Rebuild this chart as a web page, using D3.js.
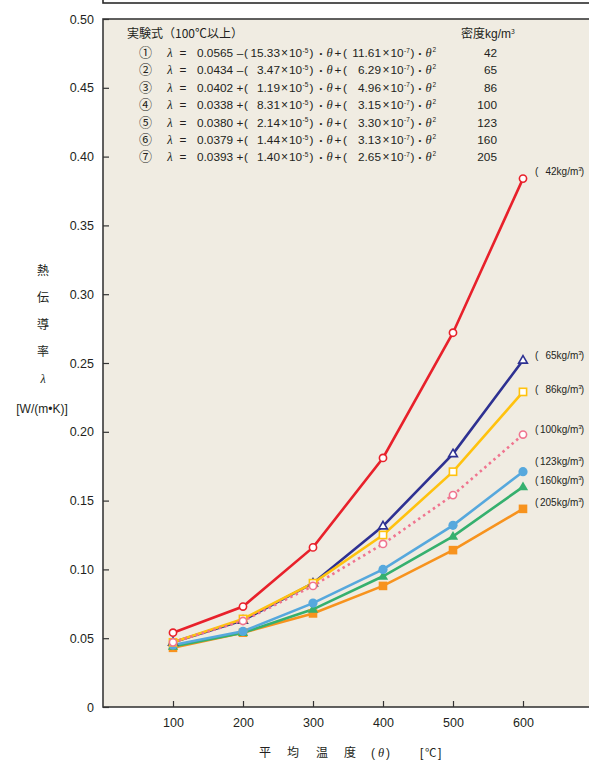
<!DOCTYPE html>
<html><head><meta charset="utf-8">
<script src="https://cdn.jsdelivr.net/npm/d3@7"></script>
<style>
html,body{margin:0;padding:0;background:#fff;}
svg{display:block;}
text{font-family:"Liberation Sans","Noto Sans CJK JP",sans-serif;fill:#231f20;}
.jp{font-family:"Noto Sans CJK JP",sans-serif;}
.it{font-family:"Liberation Serif",serif;font-style:italic;}
</style></head>
<body><svg id="c" width="589" height="764"></svg>
<script>
// ---- data ----
const temps = [100, 200, 300, 400, 500, 600];
const densities = [42, 65, 86, 100, 123, 160, 205];
const s42  = [0.054, 0.073, 0.116, 0.181, 0.272, 0.384];
const s65  = [0.047, 0.063, 0.090, 0.1315, 0.184, 0.252];
const s86  = [0.047, 0.064, 0.090, 0.125, 0.171, 0.229];
const s100 = [0.047, 0.0625, 0.088, 0.1185, 0.154, 0.198];
const s123 = [0.045, 0.055, 0.0755, 0.100, 0.132, 0.171];
const s160 = [0.044, 0.054, 0.071, 0.095, 0.124, 0.160];
const s205 = [0.043, 0.054, 0.068, 0.088, 0.114, 0.144];
const yTicks = [0, 0.05, 0.10, 0.15, 0.20, 0.25, 0.30, 0.35, 0.40, 0.45, 0.50];
const xTicks = [100, 200, 300, 400, 500, 600];
const formulaNo = ["①","②","③","④","⑤","⑥","⑦"];
const formulaConst = ["0.0565","0.0434","0.0402","0.0338","0.0380","0.0379","0.0393"];
const formulaSign = ["–","–","+","+","+","+","+"];
const coef1 = ["15.33","3.47","1.19","8.31","2.14","1.44","1.40"];
const coef2 = ["11.61","6.29","4.96","3.15","3.30","3.13","2.65"];
const yTitleChars = ["熱","伝","導","率","λ"];

// ---- styles ----
const styles = [
  {d:42,  data:s42,  color:"#e8212b", marker:"circle",   open:true,  dash:null, dy:-7},
  {d:65,  data:s65,  color:"#2e3192", marker:"triangle", open:true,  dash:null, dy:-5},
  {d:86,  data:s86,  color:"#ffc20e", marker:"square",   open:true,  dash:null, dy:-2},
  {d:100, data:s100, color:"#f0748f", marker:"circle",   open:true,  dash:"2.5,3.5", dy:-5},
  {d:123, data:s123, color:"#56a8dd", marker:"circle",   open:false, dash:null, dy:-10},
  {d:160, data:s160, color:"#35b06e", marker:"triangle", open:false, dash:null, dy:-6},
  {d:205, data:s205, color:"#f7931e", marker:"square",   open:false, dash:null, dy:-6}
];
const drawOrder = [205,160,123,65,86,100,42];

const svg = d3.select("#c");
const L = 103, T = 19, B = 707;
const x = d3.scaleLinear().domain([0, 100]).range([L, L + 70]);
const y = d3.scaleLinear().domain([0, 0.5]).range([B, T]);

// top cropped box
svg.append("rect").attr("x", L).attr("y", -20).attr("width", 520).attr("height", 23)
  .attr("fill", "#fff").attr("stroke", "#2b2b2b").attr("stroke-width", 1.6);

// plot background + frame
svg.append("rect").attr("x", L).attr("y", T).attr("width", 520).attr("height", B - T)
  .attr("fill", "#f0ece2").attr("stroke", "#3a3a3a").attr("stroke-width", 1.6);

// axes
const yAxis = d3.axisLeft(y).tickValues(yTicks).tickSize(-6).tickPadding(9)
  .tickFormat(d => d === 0 ? "0" : d.toFixed(2));
const gy = svg.append("g").attr("transform", `translate(${L},0)`).call(yAxis);
gy.select(".domain").remove();
gy.selectAll("line").attr("stroke", "#333").attr("stroke-width", 1.2);
gy.selectAll("text").attr("font-size", 12.5).attr("fill", "#231f20")
  .attr("font-family", "Liberation Sans, sans-serif");

const xAxis = d3.axisBottom(x).tickValues(xTicks).tickSize(-6).tickPadding(11);
const gx = svg.append("g").attr("transform", `translate(0,${B})`).call(xAxis);
gx.select(".domain").remove();
gx.selectAll("line").attr("stroke", "#333").attr("stroke-width", 1.2);
gx.selectAll("text").attr("font-size", 12.5).attr("fill", "#231f20")
  .attr("font-family", "Liberation Sans, sans-serif");

// lines
const line = d3.line().x((d, i) => x(temps[i])).y(d => y(d));
const ordered = drawOrder.map(d => styles.find(s => s.d === d));
ordered.forEach(s => {
  svg.append("path").datum(s.data).attr("d", line).attr("fill", "none")
    .attr("stroke", s.color).attr("stroke-width", 2.6)
    .attr("stroke-dasharray", s.dash);
});
// markers + end labels
ordered.forEach(s => {
  const g = svg.append("g");
  s.data.forEach((v, i) => {
    const cx = x(temps[i]), cy = y(v);
    const fill = s.open ? "#fff" : s.color;
    let m;
    if (s.marker === "circle") {
      m = g.append("circle").attr("cx", cx).attr("cy", cy).attr("r", s.open ? 3.6 : 4.6);
    } else if (s.marker === "square") {
      const h = s.open ? 3.6 : 4.3;
      m = g.append("rect").attr("x", cx - h).attr("y", cy - h).attr("width", 2 * h).attr("height", 2 * h);
    } else {
      const r = s.open ? 4.6 : 5.4;
      m = g.append("path").attr("d", `M${cx},${cy - r} L${cx + r * 0.95},${cy + r * 0.62} L${cx - r * 0.95},${cy + r * 0.62}Z`);
    }
    m.attr("fill", fill).attr("stroke", s.color).attr("stroke-width", s.open ? 1.6 : 0);
  });
  const lv = s.data[s.data.length - 1];
  const ly = y(lv) + s.dy + 3.5;
  const num = String(s.d);
  svg.append("text").attr("x", 535).attr("y", ly).attr("font-size", 10).text("(");
  const lbl = svg.append("text").attr("x", num.length < 3 ? 545.5 : 540).attr("y", ly).attr("font-size", 10);
  lbl.append("tspan").text(num + "kg/m");
  lbl.append("tspan").text("3").attr("font-size", 6).attr("dy", -4);
  lbl.append("tspan").text(")").attr("dy", 4).attr("dx", -1);
});

// formula block
svg.append("text").attr("x", 127).attr("y", 38).attr("font-size", 12).attr("class", "jp")
  .text("実験式（100℃以上）");
const dens = svg.append("text").attr("x", 461).attr("y", 38).attr("font-size", 12).attr("class", "jp");
dens.append("tspan").text("密度");
dens.append("tspan").text("kg/m").attr("font-family", "Liberation Sans, sans-serif");
dens.append("tspan").text("3").attr("font-size", 7).attr("dy", "-0.6em");

const fs = 11.8;
function put(tx, by, str, opts = {}) {
  const t = svg.append("text").attr("x", tx).attr("y", by + (opts.dy || 0))
    .attr("font-size", opts.size || fs).text(str);
  if (opts.anchor) t.attr("text-anchor", opts.anchor);
  if (opts.cls) t.attr("class", opts.cls);
  return t;
}
formulaNo.forEach((n, i) => {
  const by = 57 + i * 17.4;
  put(145.5, by, n, {anchor: "middle", size: 13, cls: "jp"});
  put(170, by, "λ", {anchor: "middle", size: 12.5, cls: "it"});
  put(183, by, "=", {anchor: "middle"});
  put(197, by, formulaConst[i]);
  put(240, by, formulaSign[i], {anchor: "middle"});
  put(244, by, "(");
  put(280, by, coef1[i], {anchor: "end"});
  put(281, by, "×", {size: 12});
  put(289, by, "10");
  put(302.5, by, "-5", {size: 6.5, dy: -4.5});
  put(309.5, by, ")");
  put(321, by, "•", {anchor: "middle", size: 8, dy: -1});
  put(326.5, by, "θ", {size: 12.5, cls: "it"});
  put(334.5, by, "+");
  put(343, by, "(");
  put(381, by, coef2[i], {anchor: "end"});
  put(382.5, by, "×", {size: 12});
  put(390.5, by, "10");
  put(404, by, "-7", {size: 6.5, dy: -4.5});
  put(410.5, by, ")");
  put(420, by, "•", {anchor: "middle", size: 8, dy: -1});
  put(425.5, by, "θ", {size: 12.5, cls: "it"});
  put(432.5, by, "2", {size: 6.5, dy: -5});
  put(497, by, densities[i], {anchor: "end"});
});

// y title
yTitleChars.forEach((c, i) => {
  svg.append("text").attr("x", 43).attr("y", 275 + i * 27).attr("text-anchor", "middle")
    .attr("font-size", 12).attr("class", c === "λ" ? "it" : "jp").text(c);
});
put(42, 413, "[W/(m•K)]", {anchor: "middle", size: 12});

// x title
[["平",265],["均",293],["温",322],["度",350]].forEach(([c, cx]) =>
  put(cx, 757, c, {anchor: "middle", size: 12, cls: "jp"}));
put(371, 757, "(", {size: 12});
put(378, 757, "θ", {size: 12.5, cls: "it"});
put(386, 757, ")", {size: 12});
put(420, 757, "[", {size: 12});
put(425, 757, "℃", {size: 11.5, cls: "jp"});
put(438, 757, "]", {size: 12});
</script></body></html>
